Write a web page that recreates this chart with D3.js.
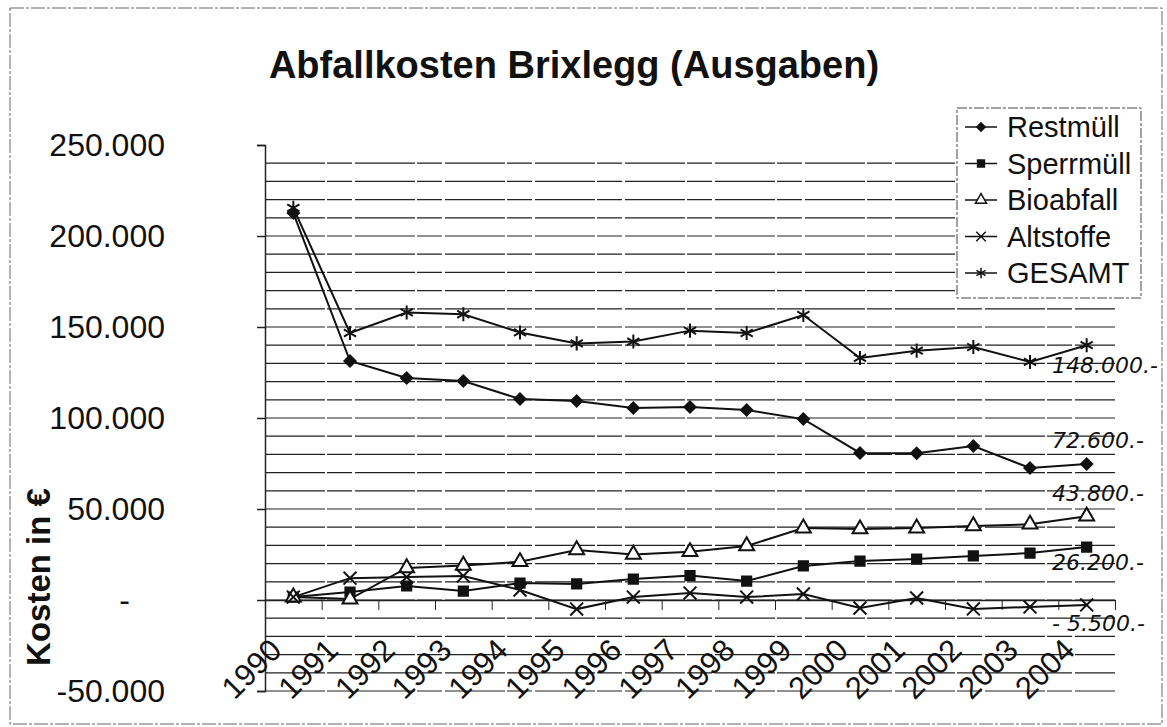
<!DOCTYPE html>
<html lang="de"><head>
<meta charset="utf-8">
<title>Abfallkosten Brixlegg</title>
<script src="https://cdnjs.cloudflare.com/ajax/libs/d3/7.8.5/d3.min.js"></script>
<style>
  body { margin:0; background:#fff; }
  text { font-family: "Liberation Sans", Arial, sans-serif; fill:#111; }
  .note { font-family: "DejaVu Sans", sans-serif; font-style: italic; font-weight: 300; }
</style>
</head>
<body>
<svg id="chart" width="1167" height="727"></svg>
<script type="text/javascript">

// data
var years = ["1990","1991","1992","1993","1994","1995","1996","1997","1998","1999","2000","2001","2002","2003","2004"];
var restmuell  = [212600,131300,122000,120300,110400,109300,105500,106000,104400,99400,80800,80600,84600,72500,74700];
var sperrmuell = [1600,4400,7700,4900,9300,8800,11500,13400,10400,18700,21400,22500,24200,25800,29100];
var bioabfall  = [1600,500,17600,19000,21000,27500,25000,26500,29700,39500,39000,39500,40700,41600,46000];
var altstoffe  = [1600,12000,12600,13200,5500,-5000,1600,3800,1600,3300,-4400,1100,-4900,-3800,-2700];
var gesamt     = [215500,146700,158000,157000,147000,141000,142000,148000,146700,156600,133000,137000,139000,130800,140000];
var seriesNames = ["Restmüll","Sperrmüll","Bioabfall","Altstoffe","GESAMT"];
var yTicks = [-50000,0,50000,100000,150000,200000,250000];
// handwritten notes on the right margin, and the level they sit at
var notes   = ["148.000.-","72.600.-","43.800.-","26.200.-","- 5.500.-"];
var notesAt = [129000,88000,58800,20900,-12600];

var svg = d3.select("#chart");
var plotLeft = 265, plotRight = 1115, plotTop = 145, plotBottom = 691;

var x = d3.scaleBand().domain(years).range([plotLeft, plotRight]);
var y = d3.scaleLinear().domain([-50000, 250000]).range([plotBottom, plotTop]);
var de = d3.formatLocale({decimal: ",", thousands: ".", grouping: [3], currency: ["", " €"], minus: "-"});
var fmt = de.format(",.0f");

// outer frame
svg.append("rect").attr("x", 10).attr("y", 8).attr("width", 1152).attr("height", 716)
  .attr("fill", "none").attr("stroke", "#666").attr("stroke-width", 1).attr("stroke-dasharray", "14,2,3,2");

// title
svg.append("text").attr("x", 574).attr("y", 78).attr("text-anchor", "middle")
  .style("font-size", "38px").style("font-weight", "bold")
  .text("Abfallkosten Brixlegg (Ausgaben)");

// gridlines every 10.000
svg.append("g").selectAll("line")
  .data(d3.range(-50000, 250000, 10000))
  .enter().append("line")
  .attr("x1", plotLeft).attr("x2", plotRight)
  .attr("y1", function(d){ return y(d); }).attr("y2", function(d){ return y(d); })
  .attr("stroke", "#222").attr("stroke-width", 1.2).attr("stroke-dasharray", "60,2,25,3");

// y axis
var yAxis = svg.append("g").attr("transform", "translate(" + plotLeft + ",0)")
  .call(d3.axisLeft(y).tickValues(yTicks).tickSize(8).tickPadding(92)
    .tickFormat(function(d){ return d === 0 ? "-" : fmt(d); }));
yAxis.select(".domain").attr("stroke", "#222").attr("stroke-width", 1.5);
yAxis.selectAll(".tick line").attr("stroke", "#222").attr("stroke-width", 1.5);
yAxis.selectAll(".tick text").style("font-size", "32px").attr("fill", "#111")
  .attr("x", function(d){ return d === 0 ? -135 : -100; });

svg.append("text").attr("transform", "translate(50,577) rotate(-90)")
  .attr("text-anchor", "middle").style("font-size", "33px").style("font-weight", "bold")
  .text("Kosten in €");

// category axis at zero, ticks between years
var xb = d3.scaleLinear().domain([0, years.length]).range([plotLeft, plotRight]);
var xAxis = svg.append("g").attr("transform", "translate(0," + y(0) + ")")
  .call(d3.axisBottom(xb).tickValues(d3.range(years.length + 1)).tickSize(10).tickSizeOuter(0).tickFormat(""));
xAxis.select(".domain").attr("stroke", "#222").attr("stroke-width", 1.5);
xAxis.selectAll(".tick line").attr("stroke", "#222").attr("stroke-width", 1);

// series
var cx = function(d, i){ return x(years[i]) + x.bandwidth() / 2; };
var series = [
  {name: seriesNames[0], values: restmuell,  symbol: d3.symbolDiamond2, size: 80,  fill: "#111"},
  {name: seriesNames[1], values: sperrmuell, symbol: d3.symbolSquare,   size: 85,  fill: "#111"},
  {name: seriesNames[2], values: bioabfall,  symbol: d3.symbolTriangle2, size: 160, fill: "#fff"},
  {name: seriesNames[3], values: altstoffe,  symbol: d3.symbolX,        size: 110, fill: "none"},
  {name: seriesNames[4], values: gesamt,     symbol: d3.symbolAsterisk, size: 140, fill: "none"}
];

var line = d3.line().x(cx).y(function(d){ return y(d); });

series.forEach(function(s){
  svg.append("path").datum(s.values)
    .attr("d", line).attr("fill", "none").attr("stroke", "#111").attr("stroke-width", 2);
});
series.forEach(function(s){
  svg.append("g").selectAll("path")
    .data(s.values)
    .enter().append("path")
    .attr("transform", function(d, i){ return "translate(" + cx(d, i) + "," + y(d) + ")"; })
    .attr("d", d3.symbol().type(s.symbol).size(s.size))
    .attr("fill", s.fill).attr("stroke", "#111").attr("stroke-width", 2);
});

// legend
var lg = svg.append("g").attr("transform", "translate(957,108)");
lg.append("rect").attr("width", 184).attr("height", 190)
  .attr("fill", "#fff").attr("stroke", "#444").attr("stroke-width", 1).attr("stroke-dasharray", "10,2,3,2");
var item = lg.selectAll(".item").data(series).enter().append("g")
  .attr("class", "item")
  .attr("transform", function(d, i){ return "translate(0," + (19 + i * 36.5) + ")"; });
item.append("line").attr("x1", 8).attr("x2", 40).attr("stroke", "#111").attr("stroke-width", 1.5);
item.append("path")
  .attr("transform", "translate(24,0)")
  .attr("d", function(d){ return d3.symbol().type(d.symbol).size(d.size * 0.55)(); })
  .attr("fill", function(d){ return d.fill; }).attr("stroke", "#111").attr("stroke-width", 1.5);
item.append("text").attr("x", 50).attr("dy", "0.36em").style("font-size", "29px")
  .text(function(d){ return d.name; });

// year labels, rotated
svg.append("g").selectAll("text")
  .data(years)
  .enter().append("text")
  .attr("transform", function(d){ return "translate(" + (x(d) + x.bandwidth() / 2 - 10) + ",652) rotate(-45)"; })
  .attr("text-anchor", "end").style("font-size", "31px")
  .text(function(d){ return d; });

// handwritten notes
svg.append("g").selectAll("text")
  .data(notes)
  .enter().append("text")
  .attr("class", "note")
  .attr("x", 1052).attr("y", function(d, i){ return y(notesAt[i]) + 8; })
  .style("font-size", "22px")
  .text(function(d){ return d; });

</script>
</body></html>
